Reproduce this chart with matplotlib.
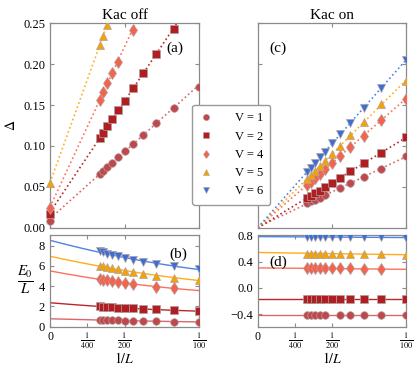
import numpy as np
import matplotlib
matplotlib.use('Agg')
import matplotlib.pyplot as plt
from matplotlib.lines import Line2D

nan = np.nan

# system sizes (x axis is 1/L)
L = np.array([300, 280, 260, 240, 220, 200, 180, 160, 140, 120, 100])
V = [1, 2, 4, 5, 6]

# gap, Kac off (panel a)
gap_off = {
    1: [0.0657, 0.0697, 0.0746, 0.0795, 0.0861, 0.0938, 0.1024, 0.1138, 0.1284, 0.1468, 0.1724],
    2: [0.1093, 0.1162, 0.1244, 0.1329, 0.1440, 0.1553, 0.1705, 0.1888, 0.2120, 0.2426, nan],
    4: [0.1562, 0.1663, 0.1766, 0.1888, 0.2030, nan, 0.2418, nan, nan, nan, nan],
    5: [0.2234, 0.2348, 0.2480, nan, nan, nan, nan, nan, nan, nan, nan],
}
gap_off_inf = {1: 0.0086, 2: 0.0163, 4: 0.0245, 5: 0.055}

# gap, Kac on (panel c)
gap_on = {
    1: [0.0298, 0.0325, 0.0339, 0.0359, 0.0400, nan, 0.0486, 0.0543, 0.0616, 0.0719, 0.0874],
    2: [0.0364, 0.0392, 0.0425, 0.0453, 0.0502, 0.0547, 0.0609, 0.0690, 0.0788, 0.0915, 0.1106],
    4: [0.0525, 0.0560, 0.0610, 0.0660, 0.0720, 0.0790, 0.0875, 0.0985, 0.1127, 0.1320, 0.1576],
    5: [0.0600, 0.0640, 0.0690, 0.0750, 0.0820, 0.0900, 0.1000, 0.1130, 0.1290, 0.1507, 0.1800],
    6: [0.0680, 0.0730, 0.0790, 0.0860, 0.0930, 0.1030, 0.1140, 0.1280, 0.1466, 0.1707, 0.2054],
}
gap_on_inf = {1: 0.0, 2: 0.0, 4: 0.0, 5: 0.0, 6: 0.0}

# energy density, Kac off (panel b)
en_off = {
    1: [0.66, 0.65, 0.64, 0.63, 0.62, 0.60, 0.58, 0.56, 0.54, 0.51, 0.47],
    2: [2.00, 1.97, 1.94, 1.91, 1.88, 1.84, 1.80, 1.75, 1.70, 1.63, 1.52],
    4: [4.70, 4.63, 4.56, 4.49, 4.41, 4.32, 4.22, nan, 3.95, 3.78, nan],
    5: [6.03, 5.96, 5.86, 5.77, 5.67, 5.53, 5.37, 5.20, 5.04, 4.81, 4.61],
    6: [7.45, 7.35, 7.22, 7.10, 6.95, 6.80, 6.60, 6.40, 6.20, 5.98, 5.70],
}
en_off_inf = {1: 0.78, 2: 2.37, 4: 5.50, 5: 6.91, 6: 8.46}

# energy density, Kac on (panel d)
en_on = {
    1: [-0.41, -0.41, -0.41, -0.41, -0.41, nan, -0.41, -0.41, -0.41, -0.41, -0.41],
    2: [-0.17, -0.17, -0.17, -0.17, -0.17, -0.17, -0.17, -0.17, -0.17, -0.17, -0.17],
    4: [0.30, 0.30, 0.30, 0.30, 0.30, 0.30, 0.30, 0.30, 0.29, 0.29, nan],
    5: [0.53, 0.53, 0.53, 0.53, 0.53, 0.53, 0.525, 0.525, 0.52, 0.52, 0.515],
    6: [0.785, 0.785, 0.785, 0.785, 0.785, 0.785, 0.78, 0.78, 0.78, 0.78, 0.775],
}
en_on_inf = {1: -0.41, 2: -0.17, 4: 0.31, 5: 0.555, 6: 0.79}

# styles
markers = {1: 'o', 2: 's', 4: 'd', 5: '^', 6: 'v'}
mcolors = {1: '#c0474c', 2: '#b01e22', 4: '#f4634c', 5: '#f5a300', 6: '#3b6fd6'}
lcolors = {1: '#d9666a', 2: '#b9272b', 4: '#ff6e5c', 5: '#ffae1a', 6: '#4e82e6'}
msize = {1: 5.5, 2: 5.5, 4: 6.5, 5: 6, 6: 6}

plt.rcParams['font.family'] = ['Liberation Serif', 'DejaVu Serif']
plt.rcParams['mathtext.fontset'] = 'stix'
plt.rcParams['xtick.direction'] = 'in'
plt.rcParams['ytick.direction'] = 'in'
plt.rcParams['xtick.top'] = True
plt.rcParams['ytick.right'] = True
plt.rcParams['axes.edgecolor'] = '#8a8a8a'
plt.rcParams['font.size'] = 8.5

fig = plt.figure(figsize=(4.15, 3.68), dpi=100)
ax_a = fig.add_axes([0.1205, 0.3813, 0.359, 0.5554])
ax_b = fig.add_axes([0.1205, 0.1114, 0.359, 0.2500])
ax_c = fig.add_axes([0.6210, 0.3813, 0.3574, 0.5554])
ax_d = fig.add_axes([0.6210, 0.1114, 0.3574, 0.2500])

x = 1.0 / L
xs = np.linspace(0, 0.0105, 200)


def draw(ax, data, inf, deg, ls):
    for v in data:
        y = np.array(data[v], dtype=float)
        ok = ~np.isnan(y)
        fx = np.concatenate([[0.0], x[ok]])
        fy = np.concatenate([[inf[v]], y[ok]])
        p = np.polyfit(fx, fy, deg)
        ax.plot(xs, np.polyval(p, xs), ls=ls, color=lcolors[v], lw=1.2 if ls == ':' else 1.0, zorder=2)
        ax.plot(x, y, ls='none', marker=markers[v], ms=msize[v], color=mcolors[v],
                mec='#b0a0a0', mew=0.5, zorder=3)


draw(ax_a, gap_off, gap_off_inf, 1, ':')
for v in gap_off_inf:
    ax_a.plot(0, gap_off_inf[v], ls='none', marker=markers[v], ms=msize[v], color=mcolors[v],
              mec='#b0a0a0', mew=0.5, clip_on=False, zorder=4)
draw(ax_c, gap_on, gap_on_inf, 1, ':')
draw(ax_b, en_off, en_off_inf, 2, '-')
draw(ax_d, en_on, en_on_inf, 1, '-')

for ax in (ax_a, ax_b, ax_c, ax_d):
    ax.set_xlim(0, 0.01)
    ax.tick_params(length=3, width=0.8, color='#8a8a8a', labelsize=9)
    for s in ax.spines.values():
        s.set_linewidth(0.9)

for ax in (ax_a, ax_c):
    ax.set_ylim(0, 0.25)
    ax.set_yticks([0, 0.05, 0.10, 0.15, 0.20, 0.25])
    ax.set_xticks([0, 0.005, 0.01])
    ax.set_xticklabels([])
ax_a.set_yticklabels(['0.00', '0.05', '0.10', '0.15', '0.20', '0.25'])
ax_c.set_yticklabels([])

fr = ['0', r'$\frac{1}{400}$', r'$\frac{1}{200}$', r'$\frac{1}{100}$']
for ax in (ax_b, ax_d):
    ax.set_xticks([0, 0.0025, 0.005, 0.01])
    ax.set_xticklabels(fr)
    ax.tick_params(axis='x', pad=3, labelsize=8.5)
    ax.set_xlabel(r'$1/L$', fontsize=10, labelpad=0)

ax_b.set_ylim(-0.03, 9.05)
ax_b.set_yticks([0, 2, 4, 6, 8])
ax_d.set_ylim(-0.6, 0.815)
ax_d.set_yticks([-0.4, 0.0, 0.4, 0.8])
ax_d.set_yticklabels(['\u22120.4', '0.0', '0.4', '0.8'])

ax_a.set_ylabel(r'$\Delta$', fontsize=10, rotation=90, labelpad=4)
ax_b.set_ylabel(r'$\frac{E_0}{L}$', fontsize=15, rotation=0, labelpad=10, va='center')

ax_a.set_title('Kac off', fontsize=11, pad=3)
ax_c.set_title('Kac on', fontsize=11, pad=3)

ax_a.text(0.78, 0.86, '(a)', transform=ax_a.transAxes, fontsize=11)
ax_b.text(0.80, 0.75, '(b)', transform=ax_b.transAxes, fontsize=11)
ax_c.text(0.08, 0.86, '(c)', transform=ax_c.transAxes, fontsize=11)
ax_d.text(0.08, 0.66, '(d)', transform=ax_d.transAxes, fontsize=11)

handles = [Line2D([], [], ls='none', marker=markers[v], ms=4.5, color=mcolors[v],
                  mec='#b0a0a0', mew=0.4) for v in V]
labels = ['V = %d' % v for v in V]
fig.legend(handles, labels, loc='upper left', bbox_to_anchor=(0.463, 0.715),
           borderaxespad=0, fontsize=9, handlelength=1.0, handletextpad=1.8,
           borderpad=0.6, labelspacing=0.5,
           framealpha=1, edgecolor='#999999', fancybox=True)

fig.savefig('out.png', dpi=100)
